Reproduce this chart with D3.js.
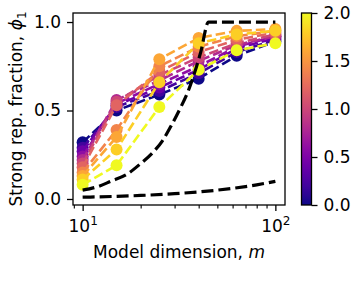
<html>
<head>
<meta charset="utf-8">
<style>
  body { margin: 0; background: #fff; }
  text { font-family: "DejaVu Sans", sans-serif; fill: #000; }
</style>
</head>
<body>
<script src="https://d3js.org/d3.v7.min.js"></script>
<script>

// model dimensions for the coloured runs
var mDims = [10, 15, 25, 40, 63, 100];

// colour parameter of each run (0 .. 2)
var cVals = [0, 0.2, 0.4, 0.6, 0.8, 1.0, 1.2, 1.4, 1.6, 1.8, 2.0];

// strong rep. fraction, one row per run
var fracs = [
  [0.32, 0.50, 0.59, 0.68, 0.81, 0.89],
  [0.29, 0.52, 0.61, 0.71, 0.83, 0.90],
  [0.27, 0.53, 0.63, 0.73, 0.85, 0.91],
  [0.24, 0.54, 0.65, 0.75, 0.86, 0.92],
  [0.22, 0.56, 0.67, 0.78, 0.87, 0.92],
  [0.20, 0.55, 0.70, 0.80, 0.88, 0.93],
  [0.18, 0.53, 0.72, 0.83, 0.90, 0.94],
  [0.15, 0.39, 0.75, 0.86, 0.92, 0.95],
  [0.13, 0.35, 0.79, 0.91, 0.95, 0.96],
  [0.11, 0.28, 0.66, 0.88, 0.93, 0.95],
  [0.08, 0.19, 0.52, 0.73, 0.84, 0.88]
];

// black dashed reference curves
var refUpperM = [10, 12, 14, 17, 20, 23, 26, 29, 32, 35, 38, 41, 45, 100];
var refUpperV = [0.05, 0.07, 0.10, 0.14, 0.20, 0.26, 0.33, 0.42, 0.51, 0.60, 0.71, 0.83, 1.0, 1.0];
var refLowerM = [10, 15, 20, 30, 40, 50, 60, 70, 80, 90, 100];
var refLowerV = [0.010, 0.015, 0.020, 0.030, 0.040, 0.050, 0.060, 0.070, 0.080, 0.090, 0.100];

var yTicks = [0, 0.5, 1.0];
var cbTicks = [0, 0.5, 1.0, 1.5, 2.0];

// frame of the plot, in pixels
var fL = 73, fR = 285, fT = 13, fB = 205;

var svg = d3.select("body").append("svg")
    .attr("width", 357)
    .attr("height", 290);

var x = d3.scaleLog().domain([Math.pow(10, 0.95), Math.pow(10, 2.05)]).range([fL, fR]);
var y = d3.scaleLinear().domain([-0.034, 1.051]).range([fB, fT]);
var color = d3.scaleSequential(d3.interpolatePlasma).domain([0, 2]);

var plot = svg.append("g");
plot.append("clipPath").attr("id", "clip")
  .append("rect").attr("x", fL).attr("y", fT).attr("width", fR - fL).attr("height", fB - fT);
var inner = plot.append("g").attr("clip-path", "url(#clip)");

var line = d3.line()
    .x(function(d) { return x(d[0]); })
    .y(function(d) { return y(d[1]); });

// coloured runs, low c first
cVals.forEach(function(c, i) {
  var pts = mDims.map(function(m, j) { return [m, fracs[i][j]]; });
  inner.append("path")
      .datum(pts)
      .attr("d", line)
      .attr("fill", "none")
      .attr("stroke", color(c))
      .attr("stroke-width", 2.6)
      .attr("stroke-dasharray", "9.5,4");
  inner.selectAll(null)
      .data(pts)
      .enter().append("circle")
      .attr("cx", function(d) { return x(d[0]); })
      .attr("cy", function(d) { return y(d[1]); })
      .attr("r", 6)
      .attr("fill", color(c));
});

// reference curves
var smooth = d3.line()
    .x(function(d) { return x(d[0]); })
    .y(function(d) { return y(d[1]); })
    .curve(d3.curveMonotoneX);

[[refUpperM, refUpperV], [refLowerM, refLowerV]].forEach(function(r) {
  inner.append("path")
      .datum(r[0].map(function(m, j) { return [m, r[1][j]]; }))
      .attr("d", smooth)
      .attr("fill", "none")
      .attr("stroke", "#000")
      .attr("stroke-width", 3.2)
      .attr("stroke-dasharray", "12,5");
});

// frame
svg.append("rect")
    .attr("x", fL).attr("y", fT)
    .attr("width", fR - fL).attr("height", fB - fT)
    .attr("fill", "none").attr("stroke", "#000").attr("stroke-width", 1.3);

// x axis
var xAxis = d3.axisBottom(x)
    .tickValues([9, 20, 30, 40, 50, 60, 70, 80, 90])
    .tickSize(3.4).tickFormat("");
svg.append("g").attr("transform", "translate(0," + fB + ")").call(xAxis)
    .call(function(g) { g.select(".domain").remove(); g.selectAll("line").attr("stroke-width", 1.1); });

var xMajor = svg.append("g").attr("transform", "translate(0," + fB + ")")
    .call(d3.axisBottom(x).tickValues([10, 100]).tickSize(6).tickFormat(""));
xMajor.select(".domain").remove();
xMajor.selectAll("line").attr("stroke-width", 1.3);
xMajor.selectAll(".tick").each(function(d) {
  var t = d3.select(this).append("text")
      .attr("y", 27)
      .attr("text-anchor", "middle")
      .style("font-size", "17px")
      .attr("fill", "#000");
  t.append("tspan").text("10");
  t.append("tspan").attr("dy", -7).style("font-size", "12px").text(Math.round(Math.log10(d)));
});

// y axis
var yAxis = svg.append("g").attr("transform", "translate(" + fL + ",0)")
    .call(d3.axisLeft(y).tickValues(yTicks).tickSize(6).tickPadding(6).tickFormat(d3.format(".1f")));
yAxis.select(".domain").remove();
yAxis.selectAll("line").attr("stroke-width", 1.3);
yAxis.selectAll("text").style("font-size", "17px").attr("font-family", "DejaVu Sans");

// axis labels
var xl = svg.append("text")
    .attr("x", (fL + fR) / 2).attr("y", 258)
    .attr("text-anchor", "middle")
    .style("font-size", "17px");
xl.append("tspan").text("Model dimension, ");
xl.append("tspan").style("font-style", "italic").text("m");

var yl = svg.append("text")
    .attr("transform", "translate(22," + ((fT + fB) / 2) + ") rotate(-90)")
    .attr("text-anchor", "middle")
    .style("font-size", "17px");
yl.append("tspan").text("Strong rep. fraction, ");
yl.append("tspan").style("font-style", "italic").text("\u03d5");
yl.append("tspan").attr("dy", 4).style("font-size", "12px").text("1");

// colour bar
var cbL = 301.5, cbR = 311.5;
var cy = d3.scaleLinear().domain([0, 2]).range([fB, fT]);
var defs = svg.append("defs");
var grad = defs.append("linearGradient").attr("id", "cbgrad")
    .attr("x1", 0).attr("y1", 1).attr("x2", 0).attr("y2", 0);
d3.range(0, 1.0001, 0.05).forEach(function(t) {
  grad.append("stop").attr("offset", t).attr("stop-color", d3.interpolatePlasma(t));
});
svg.append("rect")
    .attr("x", cbL).attr("y", fT)
    .attr("width", cbR - cbL).attr("height", fB - fT)
    .attr("fill", "url(#cbgrad)")
    .attr("stroke", "#000").attr("stroke-width", 1.3);

var cbAxis = svg.append("g").attr("transform", "translate(" + cbR + ",0)")
    .call(d3.axisRight(cy).tickValues(cbTicks).tickSize(6).tickPadding(6).tickFormat(d3.format(".1f")));
cbAxis.select(".domain").remove();
cbAxis.selectAll("line").attr("stroke-width", 1.3);
cbAxis.selectAll("text").style("font-size", "17px").attr("font-family", "DejaVu Sans");

</script>
</body>
</html>
